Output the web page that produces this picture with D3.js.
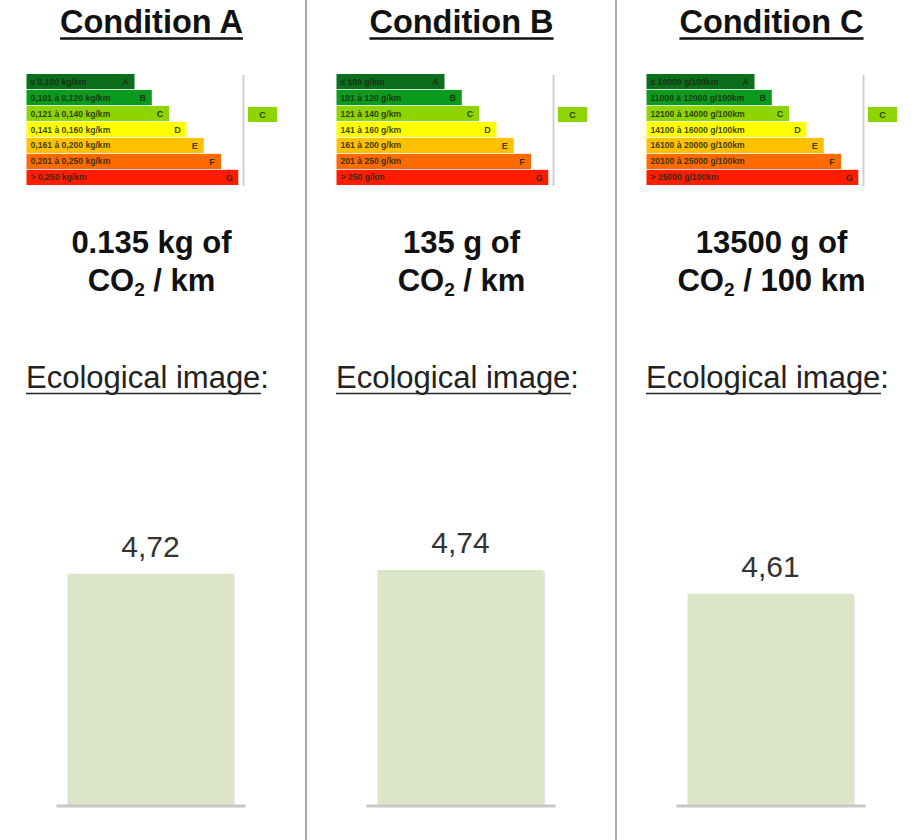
<!DOCTYPE html>
<html>
<head>
<meta charset="utf-8">
<script src="https://cdn.jsdelivr.net/npm/d3@7/dist/d3.min.js"></script>
<style>
  html, body { margin: 0; padding: 0; background: #fff; }
  svg { display: block; font-family: "Liberation Sans", Arial, sans-serif; }
</style>
</head>
<body>
<svg id="chart" width="919" height="840"></svg>
<script>
// ---- data ----
const conditions = ["Condition A", "Condition B", "Condition C"];
const values = [4.72, 4.74, 4.61];
const valueLabels = ["4,72", "4,74", "4,61"];
const emissionLine1 = ["0.135 kg of", "135 g of", "13500 g of"];
const emissionUnit = [" / km", " / km", " / 100 km"];
const imageLabel = "Ecological image:";
const energyClasses = ["A", "B", "C", "D", "E", "F", "G"];
const energyColors = ["#0b6e1c", "#0a9a1e", "#8ed400", "#ffff00", "#ffc000", "#ff6a00", "#ff1c00"];
const rangesA = ["≤ 0,100 kg/km", "0,101 à 0,120 kg/km", "0,121 à 0,140 kg/km", "0,141 à 0,160 kg/km", "0,161 à 0,200 kg/km", "0,201 à 0,250 kg/km", "> 0,250 kg/km"];
const rangesB = ["≤ 100 g/km", "101 à 120 g/km", "121 à 140 g/km", "141 à 160 g/km", "161 à 200 g/km", "201 à 250 g/km", "> 250 g/km"];
const rangesC = ["≤ 10000 g/100km", "11000 à 12000 g/100km", "12100 à 14000 g/100km", "14100 à 16000 g/100km", "16100 à 20000 g/100km", "20100 à 25000 g/100km", "> 25000 g/100km"];
const ratedClass = ["C", "C", "C"];

const ranges = [rangesA, rangesB, rangesC];

// ---- scales ----
const svg = d3.select("#chart");
const x = d3.scalePoint().domain(conditions).range([150.5, 770.5]);
const y = d3.scaleLinear().domain([3.46, 4.74]).range([805, 570]);
const rowY = d3.scaleBand().domain(energyClasses).range([74, 185]).paddingInner(0.05);
const barW = 166;

// separators
for (let i = 0; i < conditions.length - 1; i++) {
  const sx = (x(conditions[i]) + x(conditions[i + 1])) / 2 + 0.5;
  svg.append("line").attr("x1", sx).attr("x2", sx).attr("y1", 0).attr("y2", 840)
    .attr("stroke", "#aaaaaa").attr("stroke-width", 2);
}

conditions.forEach((c, i) => {
  const cx = x(c);
  const g = svg.append("g");

  // title
  const t = g.append("text").attr("x", cx + 1).attr("y", 33).attr("text-anchor", "middle")
    .attr("font-size", 32.5).attr("font-weight", "bold").attr("fill", "#111").text(c);
  const tw = t.node().getComputedTextLength();
  g.append("line").attr("x1", cx + 1 - tw / 2).attr("x2", cx + 1 + tw / 2).attr("y1", 38.5).attr("y2", 38.5)
    .attr("stroke", "#111").attr("stroke-width", 2.5);

  // energy label
  const lx = cx - 124;
  energyClasses.forEach((k, j) => {
    const w = 108 + j * 17.3;
    const dark = "#1a2a10";
    g.append("rect").attr("x", lx).attr("y", rowY(k)).attr("width", w).attr("height", rowY.bandwidth())
      .attr("fill", energyColors[j]);
    g.append("text").attr("x", lx + 4).attr("y", rowY(k) + rowY.bandwidth() / 2 + 3)
      .attr("font-size", 8.6).attr("font-weight", "bold").attr("fill", dark).attr("opacity", 0.85)
      .text(ranges[i][j]);
    g.append("text").attr("x", lx + w - 9).attr("y", rowY(k) + rowY.bandwidth() / 2 + 3.2)
      .attr("font-size", 9).attr("font-weight", "bold").attr("text-anchor", "middle")
      .attr("fill", dark).attr("opacity", 0.85).text(k);
  });
  g.append("line").attr("x1", cx + 93).attr("x2", cx + 93).attr("y1", 75).attr("y2", 186)
    .attr("stroke", "#d0d0d0").attr("stroke-width", 2);
  const rc = energyClasses.indexOf(ratedClass[i]);
  g.append("rect").attr("x", cx + 97.5).attr("y", 107).attr("width", 29).attr("height", 15)
    .attr("fill", energyColors[rc]);
  g.append("text").attr("x", cx + 112).attr("y", 118).attr("text-anchor", "middle")
    .attr("font-size", 9).attr("font-weight", "bold").attr("fill", "#1a2a10").attr("opacity", 0.85).text(ratedClass[i]);

  // emission text
  g.append("text").attr("x", cx + 1).attr("y", 253).attr("text-anchor", "middle")
    .attr("font-size", 31).attr("font-weight", "bold").attr("fill", "#111").text(emissionLine1[i]);
  const t2 = g.append("text").attr("x", cx + 1).attr("y", 291).attr("text-anchor", "middle")
    .attr("font-size", 31).attr("font-weight", "bold").attr("fill", "#111");
  t2.append("tspan").text("CO");
  t2.append("tspan").attr("font-size", 19).attr("dy", 5).text("2");
  t2.append("tspan").attr("dy", -5).text(emissionUnit[i]);

  // ecological image
  const e = g.append("text").attr("x", cx - 3).attr("y", 388).attr("text-anchor", "middle")
    .attr("font-size", 31).attr("fill", "#222").text(imageLabel);
  const ew = e.node().getComputedTextLength();
  g.append("line").attr("x1", cx - 3 - ew / 2).attr("x2", cx - 3 + ew / 2 - 8).attr("y1", 393.5).attr("y2", 393.5)
    .attr("stroke", "#222").attr("stroke-width", 1.5);

  // bar
  g.append("rect").attr("x", cx - barW / 2 + 1.5).attr("y", y(values[i]) + 1.5)
    .attr("width", barW).attr("height", y.range()[0] - y(values[i]))
    .attr("fill", "#e6e6e6");
  g.append("rect").attr("x", cx - barW / 2).attr("y", y(values[i]))
    .attr("width", barW).attr("height", y.range()[0] - y(values[i]))
    .attr("fill", "#dde5c8");
  g.append("line").attr("x1", cx - 94).attr("x2", cx + 95).attr("y1", 806).attr("y2", 806)
    .attr("stroke", "#c8c8c8").attr("stroke-width", 3);
  g.append("text").attr("x", cx).attr("y", y(values[i]) - 17).attr("text-anchor", "middle")
    .attr("font-size", 30).attr("fill", "#333").text(valueLabels[i]);
});
</script>
</body>
</html>
